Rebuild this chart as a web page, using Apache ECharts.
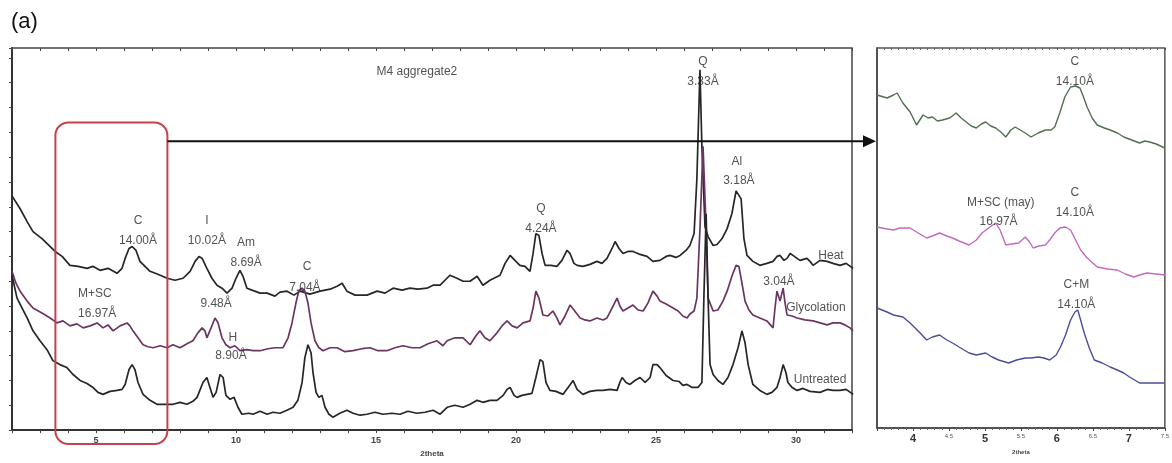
<!DOCTYPE html>
<html><head><meta charset="utf-8">
<script src="https://cdn.jsdelivr.net/npm/echarts@6/dist/echarts.min.js"></script>
<style>html,body{margin:0;padding:0;background:#fff}#c{width:1172px;height:463px}</style>
</head><body><div id="c"></div>
<script>
// ---- Left panel (2theta, relative intensity) ----
const heatL = [[2.00,236],[2.29,223],[2.54,210],[2.75,200],[3.07,193],[3.54,180],[3.79,175],[4.07,166],[4.36,165],[4.68,163],[4.89,165],[5.14,161],[5.43,163],[5.75,158],[5.93,163],[6.04,173],[6.18,183],[6.29,185],[6.43,181],[6.57,170],[6.75,165],[6.93,160],[7.21,157],[7.54,153],[7.82,151],[8.11,153],[8.36,160],[8.54,170],[8.68,175],[8.79,173],[8.96,163],[9.14,153],[9.32,146],[9.50,143],[9.68,138],[9.86,143],[10.00,153],[10.14,161],[10.25,155],[10.39,143],[10.57,141],[10.86,138],[11.11,138],[11.39,135],[11.57,139],[11.82,140],[12.07,136],[12.29,140],[12.64,137],[13.00,140],[13.36,142],[13.61,145],[13.79,148],[13.96,140],[14.25,136],[14.68,136],[15.04,140],[15.32,138],[15.61,143],[15.93,141],[16.21,143],[16.50,142],[16.82,143],[17.04,146],[17.29,146],[17.64,156],[17.89,153],[18.11,150],[18.36,150],[18.61,155],[18.82,146],[19.07,151],[19.43,156],[19.61,168],[19.79,176],[19.96,171],[20.14,166],[20.32,165],[20.50,160],[20.61,178],[20.71,198],[20.82,196],[20.93,178],[21.04,166],[21.25,166],[21.46,165],[21.64,171],[21.82,181],[21.93,178],[22.07,168],[22.18,166],[22.39,165],[22.64,167],[22.89,170],[23.07,168],[23.25,173],[23.43,183],[23.54,190],[23.68,183],[23.82,178],[24.00,180],[24.18,180],[24.43,177],[24.68,175],[24.89,170],[25.14,171],[25.36,175],[25.50,176],[25.71,174],[25.86,176],[26.07,181],[26.21,186],[26.36,198],[26.46,253],[26.57,363],[26.64,285],[26.75,205],[26.86,195],[27.04,186],[27.18,187],[27.36,193],[27.54,203],[27.71,218],[27.86,241],[27.93,243],[28.04,233],[28.14,193],[28.25,176],[28.46,170],[28.71,166],[28.96,168],[29.18,170],[29.32,175],[29.43,176],[29.57,171],[29.68,173],[29.79,178],[29.89,176],[30.14,171],[30.39,173],[30.50,170],[30.61,166],[30.86,171],[31.11,170],[31.32,168],[31.57,166],[31.79,168],[32.04,163]];
const glycL = [[2.00,160],[2.14,148],[2.29,140],[2.54,130],[2.75,123],[3.07,118],[3.36,113],[3.61,108],[3.82,110],[4.07,105],[4.32,107],[4.54,103],[4.79,105],[5.04,108],[5.25,103],[5.43,106],[5.61,100],[5.86,105],[6.11,108],[6.21,105],[6.32,100],[6.50,93],[6.68,86],[6.86,84],[7.04,83],[7.29,85],[7.54,83],[7.75,86],[8.00,83],[8.25,87],[8.46,90],[8.64,98],[8.79,103],[8.89,100],[8.96,93],[9.11,103],[9.25,113],[9.36,108],[9.50,93],[9.64,86],[9.79,83],[9.96,85],[10.14,80],[10.39,81],[10.61,80],[10.86,80],[11.14,82],[11.39,83],[11.68,83],[11.86,93],[12.00,108],[12.14,128],[12.25,141],[12.36,143],[12.46,140],[12.57,128],[12.68,108],[12.82,90],[12.96,83],[13.11,80],[13.36,83],[13.61,83],[13.89,79],[14.18,80],[14.50,82],[14.79,83],[15.07,80],[15.39,80],[15.68,83],[15.96,85],[16.29,83],[16.57,83],[16.86,87],[17.18,90],[17.39,85],[17.54,90],[17.82,93],[18.11,93],[18.36,86],[18.57,95],[18.71,100],[18.89,93],[19.07,90],[19.32,98],[19.50,105],[19.68,110],[19.86,105],[20.04,103],[20.25,108],[20.50,110],[20.61,123],[20.71,140],[20.82,133],[20.96,116],[21.14,115],[21.32,120],[21.46,113],[21.57,106],[21.75,115],[21.93,126],[22.07,121],[22.29,113],[22.46,111],[22.64,110],[22.89,113],[23.11,111],[23.25,113],[23.43,123],[23.61,133],[23.71,125],[23.82,120],[24.00,123],[24.18,126],[24.36,121],[24.54,120],[24.71,128],[24.89,140],[25.04,135],[25.14,130],[25.36,127],[25.61,123],[25.79,120],[25.96,115],[26.11,113],[26.21,117],[26.36,120],[26.46,133],[26.57,203],[26.68,286],[26.79,203],[26.86,133],[27.04,120],[27.21,121],[27.39,130],[27.54,140],[27.71,155],[27.86,166],[27.96,165],[28.07,148],[28.18,130],[28.32,121],[28.46,116],[28.71,113],[28.96,110],[29.18,103],[29.25,123],[29.32,140],[29.43,130],[29.54,143],[29.61,128],[29.68,116],[29.86,115],[30.04,113],[30.32,111],[30.61,110],[30.86,108],[31.11,106],[31.32,108],[31.57,108],[31.75,106],[31.93,103],[32.04,100]];
const untrL = [[2.00,156],[2.18,133],[2.36,123],[2.54,113],[2.75,100],[3.00,90],[3.25,81],[3.46,70],[3.71,66],[3.96,63],[4.18,56],[4.43,50],[4.68,47],[4.89,43],[5.07,38],[5.25,36],[5.50,39],[5.75,40],[5.93,41],[6.04,46],[6.18,61],[6.29,66],[6.39,61],[6.50,48],[6.68,36],[6.93,30],[7.18,26],[7.46,26],[7.75,26],[8.00,28],[8.25,26],[8.46,29],[8.61,33],[8.82,48],[8.96,53],[9.07,43],[9.18,33],[9.29,38],[9.43,56],[9.54,53],[9.64,35],[9.79,31],[9.93,33],[10.07,23],[10.21,16],[10.46,17],[10.61,16],[10.86,19],[11.11,16],[11.32,18],[11.57,17],[11.82,20],[12.04,23],[12.21,30],[12.36,48],[12.46,73],[12.57,86],[12.68,78],[12.75,58],[12.86,38],[12.96,33],[13.07,35],[13.18,23],[13.32,16],[13.46,13],[13.71,17],[13.96,20],[14.18,17],[14.43,15],[14.68,16],[14.96,18],[15.25,16],[15.57,17],[15.86,16],[16.14,19],[16.46,17],[16.75,18],[17.04,20],[17.29,16],[17.54,23],[17.82,25],[18.11,23],[18.36,26],[18.61,30],[18.82,28],[19.07,30],[19.32,30],[19.54,35],[19.68,41],[19.79,43],[19.93,35],[20.04,33],[20.21,35],[20.39,36],[20.57,37],[20.71,53],[20.86,71],[20.96,69],[21.07,48],[21.21,40],[21.43,39],[21.68,36],[21.86,43],[22.04,50],[22.18,41],[22.39,36],[22.64,39],[22.89,40],[23.11,40],[23.36,41],[23.61,40],[23.71,48],[23.79,53],[23.93,48],[24.07,46],[24.25,50],[24.43,53],[24.61,48],[24.79,53],[24.89,66],[25.04,66],[25.14,63],[25.36,55],[25.61,50],[25.82,49],[25.96,45],[26.11,46],[26.29,43],[26.50,43],[26.64,48],[26.71,133],[26.79,218],[26.86,133],[26.93,66],[27.04,56],[27.21,50],[27.39,46],[27.57,53],[27.75,66],[27.93,83],[28.07,100],[28.18,88],[28.29,66],[28.46,46],[28.71,40],[28.96,36],[29.14,38],[29.32,43],[29.43,53],[29.54,66],[29.64,58],[29.71,48],[29.86,43],[30.04,40],[30.25,42],[30.50,39],[30.86,38],[31.11,41],[31.32,40],[31.57,40],[31.79,41],[32.04,36]];

// ---- Right panel (zoom 3.5 - 7.5 2theta) ----
const heatR = [[3.50,333],[3.64,330],[3.73,333],[3.78,335],[3.86,325],[3.96,316],[4.05,303],[4.14,313],[4.21,310],[4.27,311],[4.34,307],[4.41,308],[4.51,310],[4.60,315],[4.67,310],[4.74,306],[4.81,302],[4.88,300],[4.95,304],[5.01,306],[5.08,302],[5.15,300],[5.22,296],[5.29,291],[5.36,298],[5.42,301],[5.49,298],[5.56,295],[5.64,291],[5.74,295],[5.84,298],[5.92,298],[5.97,301],[6.04,315],[6.11,331],[6.19,341],[6.26,342],[6.32,340],[6.37,331],[6.42,321],[6.49,310],[6.56,303],[6.66,300],[6.74,298],[6.84,295],[6.93,291],[7.04,288],[7.15,285],[7.22,287],[7.29,286],[7.38,284],[7.50,280]];
const glycR = [[3.50,201],[3.64,199],[3.73,198],[3.82,200],[3.96,200],[4.05,196],[4.19,190],[4.27,192],[4.37,195],[4.47,192],[4.55,190],[4.64,187],[4.78,183],[4.88,188],[4.96,195],[5.05,200],[5.15,205],[5.21,198],[5.29,183],[5.37,184],[5.47,185],[5.56,191],[5.62,186],[5.67,180],[5.75,182],[5.84,183],[5.90,188],[5.97,195],[6.04,200],[6.12,201],[6.19,198],[6.26,188],[6.33,178],[6.42,170],[6.56,161],[6.70,159],[6.84,158],[6.95,154],[7.07,151],[7.15,153],[7.25,155],[7.38,154],[7.50,153]];
const untrR = [[3.50,120],[3.64,116],[3.73,113],[3.86,111],[3.96,105],[4.10,95],[4.19,88],[4.27,91],[4.37,93],[4.47,88],[4.55,85],[4.64,81],[4.78,75],[4.88,73],[5.01,75],[5.10,71],[5.19,68],[5.33,65],[5.44,68],[5.56,70],[5.64,70],[5.74,71],[5.82,70],[5.90,68],[5.99,73],[6.05,81],[6.12,93],[6.19,108],[6.25,116],[6.29,118],[6.33,108],[6.38,95],[6.45,80],[6.52,68],[6.63,65],[6.74,61],[6.84,58],[6.93,55],[7.01,51],[7.08,48],[7.15,45],[7.32,45],[7.50,45]];

// ---- annotations [x, y, text] ----
const notesL = [[16.46,361,'M4 aggregate2'],[6.5,211,'C'],[6.5,191,'14.00Å'],[8.96,211,'I'],[8.96,191,'10.02Å'],[10.36,189,'Am'],[10.36,169,'8.69Å'],[12.54,165,'C'],[12.46,143,'7.04Å'],[4.96,137,'M+SC'],[5.04,117,'16.97Å'],[9.29,127,'9.48Å'],[9.89,93,'H'],[9.82,75,'8.90Å'],[20.89,223,'Q'],[20.89,203,'4.24Å'],[26.68,371,'Q'],[26.68,351,'3.33Å'],[27.89,270,'Al'],[27.96,251,'3.18Å'],[29.39,150,'3.04Å'],[31.25,176,'Heat'],[30.71,123,'Glycolation'],[30.86,51,'Untreated']];
const notesR = [[6.25,366,'C'],[6.25,346,'14.10Å'],[5.22,225,'M+SC (may)'],[5.19,206,'16.97Å'],[6.25,235,'C'],[6.25,215,'14.10Å'],[6.27,143,'C+M'],[6.27,123,'14.10Å']];

// zoom box (left panel data coords) and arrow level
const zoomBox = {x0: 3.55, x1: 7.55, y0: -14, y1: 310};
const arrowY = 291;

const FONT = 'Liberation Sans';
const chart = echarts.init(document.getElementById('c'));

function lineS(data, color, xi, yi, w) {
  return {type:'line', data, xAxisIndex:xi, yAxisIndex:yi, showSymbol:false, symbol:'none',
    lineStyle:{color, width:w}, itemStyle:{color}, silent:true, animation:false};
}
function noteS(data, xi, yi, size) {
  return {type:'scatter', data, xAxisIndex:xi, yAxisIndex:yi, symbolSize:1, silent:true, animation:false, z:5,
    itemStyle:{color:'rgba(0,0,0,0)'},
    label:{show:true, position:'inside', formatter:p=>p.value[2], fontSize:size, fontFamily:FONT, color:'#262626'}};
}

chart.setOption({
  animation:false,
  title:{text:'(a)', left:6, top:6, textStyle:{fontSize:22, fontWeight:'normal', fontFamily:FONT, color:'#111'}},
  grid:[
    {left:12, width:840, top:48, height:385, show:true, borderColor:'#444', borderWidth:1.5, backgroundColor:'#fff'},
    {left:877, width:292, top:48, height:380, show:true, borderColor:'#555', borderWidth:1.5, backgroundColor:'#fff'}
  ],
  xAxis:[
    {type:'value', gridIndex:0, min:2, max:32, interval:1, name:'2theta', nameLocation:'middle', nameGap:18,
     nameTextStyle:{fontSize:8, fontWeight:'bold', color:'#444', fontFamily:FONT},
     axisLine:{lineStyle:{color:'#333', width:2}}, axisTick:{length:3, lineStyle:{color:'#444'}},
     splitLine:{show:false},
     axisLabel:{fontSize:9, fontWeight:'bold', color:'#444', fontFamily:FONT, margin:6, formatter:v=>(Math.round(v)%5===0?String(Math.round(v)):'')}},
    {type:'value', gridIndex:1, min:3.5, max:7.5, interval:0.5, name:'2theta', nameLocation:'middle', nameGap:19,
     nameTextStyle:{fontSize:6, fontWeight:'bold', color:'#444', fontFamily:FONT},
     axisLine:{lineStyle:{color:'#444', width:1.5}}, axisTick:{length:3, lineStyle:{color:'#444'}},
     minorTick:{show:true, splitNumber:5, length:2, lineStyle:{color:'#666'}},
     splitLine:{show:false},
     axisLabel:{color:'#333', fontFamily:FONT, margin:5,
       formatter:v=>{const r=Math.round(v*10)/10; if(r===3.5) return ''; return Number.isInteger(r)?'{b|'+r+'}':'{s|'+r+'}';},
       rich:{b:{fontSize:11, fontWeight:'bold', color:'#333'}, s:{fontSize:6, color:'#555'}}}},
    {type:'value', gridIndex:0, position:'top', min:2, max:32, interval:1,
     axisLine:{show:false}, axisTick:{show:true, inside:true, length:3, lineStyle:{color:'#444'}},
     axisLabel:{show:false}, splitLine:{show:false}},
    {type:'value', gridIndex:1, position:'top', min:3.5, max:7.5, interval:0.5,
     axisLine:{show:false}, axisTick:{show:true, inside:true, length:2, lineStyle:{color:'#555'}},
     minorTick:{show:true, splitNumber:5, length:2, lineStyle:{color:'#666'}},
     axisLabel:{show:false}, splitLine:{show:false}}
  ],
  yAxis:[
    {type:'value', gridIndex:0, min:0, max:385, interval:25, axisLabel:{show:false}, splitLine:{show:false},
     axisLine:{show:true, lineStyle:{color:'#333', width:2}}, axisTick:{show:true, length:3, lineStyle:{color:'#444'}}},
    {type:'value', gridIndex:1, min:0, max:380, axisLabel:{show:false}, splitLine:{show:false},
     axisLine:{show:true, lineStyle:{color:'#444', width:1.5}}, axisTick:{show:false}}
  ],
  series:[
    lineS(heatL, '#262626', 0, 0, 1.7),
    lineS(glycL, '#6b3563', 0, 0, 1.7),
    lineS(untrL, '#262626', 0, 0, 1.7),
    lineS(heatR, '#4f7052', 1, 1, 1.4),
    lineS(glycR, '#c36ac0', 1, 1, 1.4),
    lineS(untrR, '#4c4c9c', 1, 1, 1.4),
    noteS(notesL, 0, 0, 12),
    noteS(notesR, 1, 1, 12)
  ]
});

// zoom box + arrow, positioned through the axes' own scales
const tl = chart.convertToPixel({seriesIndex:0}, [zoomBox.x0, zoomBox.y1]);
const br = chart.convertToPixel({seriesIndex:0}, [zoomBox.x1, zoomBox.y0]);
const a0 = chart.convertToPixel({seriesIndex:0}, [zoomBox.x1, arrowY]);
const a1 = chart.convertToPixel({seriesIndex:3}, [3.5, 0]);
const tipX = a1[0] - 1, ay = a0[1];
chart.setOption({graphic:[
  {type:'rect', z:10, shape:{x:tl[0], y:tl[1], width:br[0]-tl[0], height:br[1]-tl[1], r:13},
   style:{fill:'none', stroke:'#c4424c', lineWidth:2}},
  {type:'line', z:10, shape:{x1:a0[0], y1:ay, x2:tipX-12, y2:ay}, style:{stroke:'#111', lineWidth:2}},
  {type:'polygon', z:10, shape:{points:[[tipX-13,ay-6],[tipX,ay],[tipX-13,ay+6]]}, style:{fill:'#111'}}
]});
</script></body></html>
